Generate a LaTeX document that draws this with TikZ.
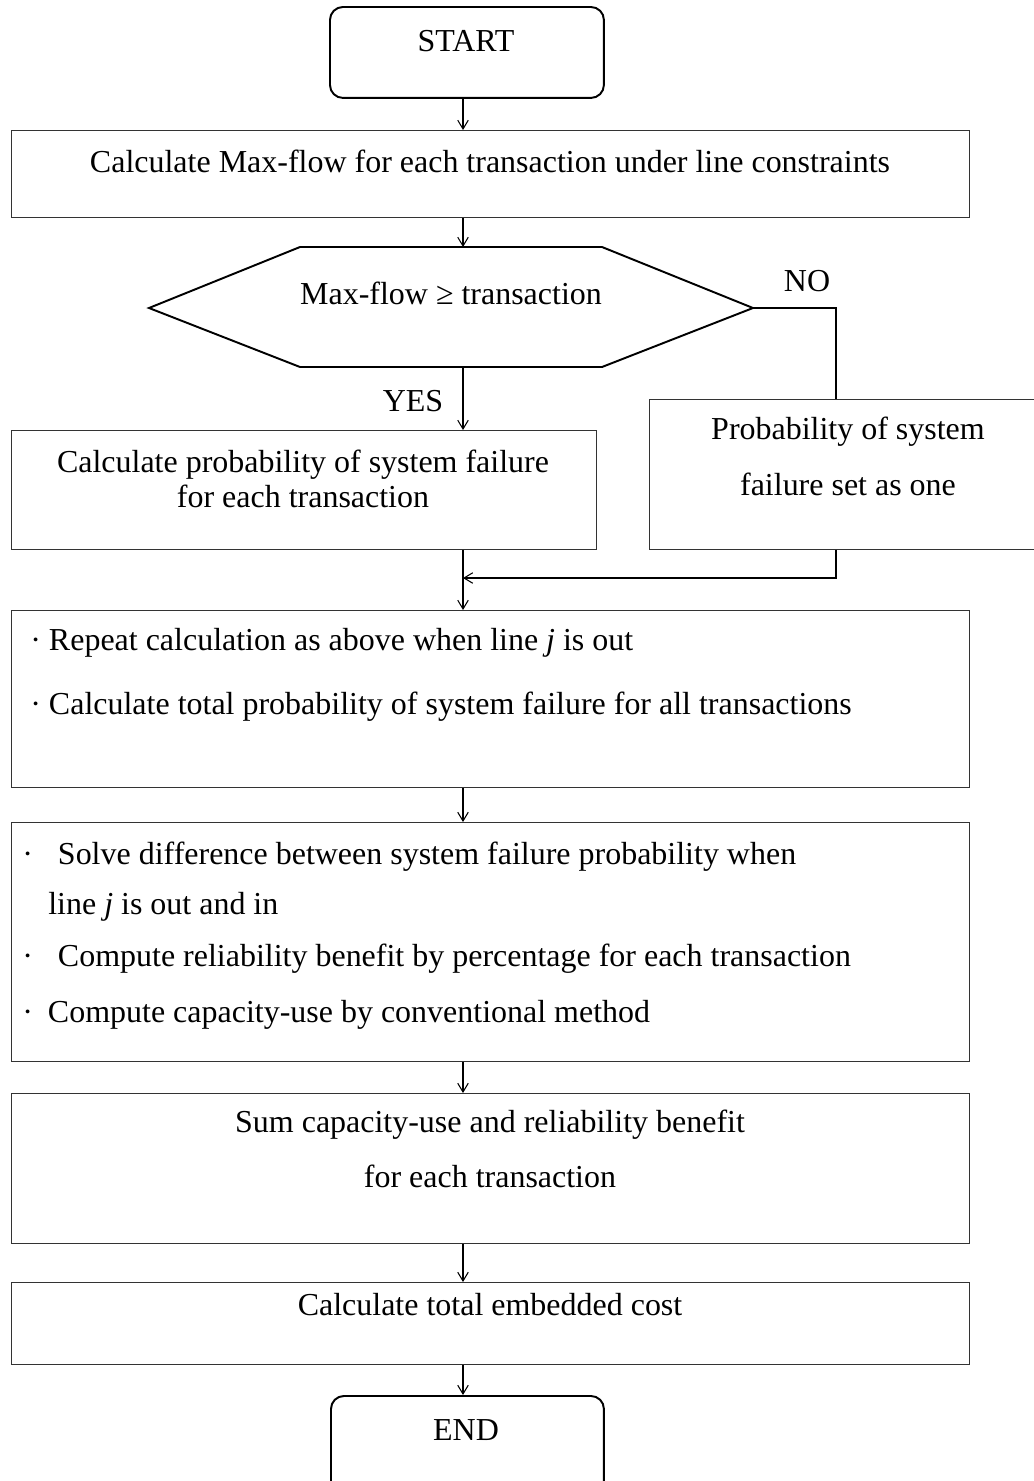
\documentclass[tikz,border=0pt]{standalone}
\usepackage{fontspec}
\setmainfont{Liberation Serif}
\usetikzlibrary{arrows.meta,positioning}

\tikzset{
  term/.style={draw, line width=1.1pt, rounded corners=0.26cm,
    anchor=north west, inner sep=0pt},
  box/.style={draw=black!80, line width=0.6pt, anchor=north west, inner sep=0pt},
  txt/.style={inner sep=0pt, anchor=base, font=\fontsize{18.2}{22}\selectfont},
  ltxt/.style={txt, anchor=base west},
  flow/.style={->, line width=0.6pt},
  >={Straight Barb[length=5pt,width=6pt]}
}

\begin{document}
\begin{tikzpicture}[x=0.02cm, y=-0.02cm]
  \useasboundingbox (0,0) rectangle (1034,1481);

  % the lines where the arrows run
  \coordinate (spine) at (463,0);
  \coordinate (side) at (836,0);

  % boxes
  \node[term, minimum width=5.48cm, minimum height=1.82cm] (start) at (329,6) {};
  \node[box, minimum width=19.16cm, minimum height=1.74cm] (calc) at (11,130) {};
  \node[box, minimum width=11.70cm, minimum height=2.38cm] (prob) at (11,430) {};
  \node[box, minimum width=8.0cm, minimum height=3.0cm] (one) at (649,399) {};
  \node[box, minimum width=19.16cm, minimum height=3.54cm] (rep) at (11,610) {};
  \node[box, minimum width=19.16cm, minimum height=4.78cm] (solve) at (11,822) {};
  \node[box, minimum width=19.16cm, minimum height=3.0cm] (sum) at (11,1093) {};
  \node[box, minimum width=19.16cm, minimum height=1.64cm] (cost) at (11,1282) {};
  \node[term, minimum width=5.46cm, minimum height=2.0cm] (end) at (330,1395) {};

  % decision
  \coordinate (hexT) at (463,247);
  \coordinate (hexB) at (463,367);
  \coordinate (hexR) at (753,308);
  \draw[line width=1.1pt] (149,308) -- (300,247) -- (602,247) -- (hexR)
    -- (602,367) -- (300,367) -- cycle;

  % texts
  \node[txt] (tstart) at (466,51) {START};
  \node[txt] (tcalc) at (490,172) {Calculate Max-flow for each transaction under line constraints};
  \node[txt] (tdec) at (451,304) {Max-flow ≥ transaction};
  \node[txt] (tno) at (807,291) {NO};
  \node[txt] (tyes) at (413,411) {YES};
  \node[txt] (tprob1) at (303,472) {Calculate probability of system failure};
  \node[txt] (tprob2) at (303,507) {for each transaction};
  \node[txt] (tone1) at (848,439) {Probability of system};
  \node[txt] (tone2) at (848,495) {failure set as one};
  \node[ltxt] (trep1) at (30,650) {· Repeat calculation as above when line \textit{j} is out};
  \node[ltxt] (trep2) at (30,714) {· Calculate total probability of system failure for all transactions};
  \node[ltxt] (tsol1) at (22,864) {·\hspace{0.5cm}Solve difference between system failure probability when};
  \node[ltxt] (tsol2) at (48,914) {line \textit{j} is out and in};
  \node[ltxt] (tsol3) at (22,966) {·\hspace{0.5cm}Compute reliability benefit by percentage for each transaction};
  \node[ltxt] (tsol4) at (22,1022) {·\hspace{0.3cm}Compute capacity-use by conventional method};
  \node[txt] (tsum1) at (490,1132) {Sum capacity-use and reliability benefit};
  \node[txt] (tsum2) at (490,1187) {for each transaction};
  \node[txt] (tcost) at (490,1315) {Calculate total embedded cost};
  \node[txt] (tend) at (466,1440) {END};

  % arrows
  \draw[flow] (start.south -| spine) -- (calc.north -| spine);
  \draw[flow] (calc.south -| spine) -- (hexT);
  \draw[flow] (hexB) -- (prob.north -| spine);
  \draw[line width=0.6pt] (hexR) -| (one.north -| side);
  \draw[flow] (prob.south -| spine) -- (rep.north -| spine);
  \coordinate (join) at (463,578);
  \draw[flow] (one.south -| side) |- (join);
  \draw[flow] (rep.south -| spine) -- (solve.north -| spine);
  \draw[flow] (solve.south -| spine) -- (sum.north -| spine);
  \draw[flow] (sum.south -| spine) -- (cost.north -| spine);
  \draw[flow] (cost.south -| spine) -- (end.north -| spine);

\end{tikzpicture}
\end{document}
